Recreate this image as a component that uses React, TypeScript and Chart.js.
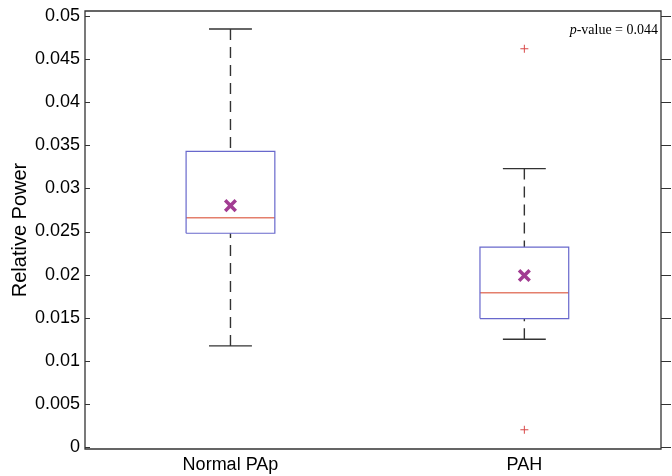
import React, { useEffect, useRef } from "react";
import { Chart, registerables } from "chart.js";

Chart.register(...registerables);

const categories = ["Normal PAp", "PAH"];
const positions = [1, 2];
const whiskerLow = [0.01173, 0.0125];
const q1 = [0.0248, 0.0149];
const median = [0.0266, 0.0179];
const q3 = [0.0343, 0.0232];
const whiskerHigh = [0.0485, 0.0323];
const means = [0.028, 0.0199];
const outliers: number[][] = [[], [0.0462, 0.002]];
const yTickValues = [0, 0.005, 0.01, 0.015, 0.02, 0.025, 0.03, 0.035, 0.04, 0.045, 0.05];
const yTickLabels = ["0", "0.005", "0.01", "0.015", "0.02", "0.025", "0.03", "0.035", "0.04", "0.045", "0.05"];
const pValueText = "-value = 0.044";

const BOX_HALF = 0.151;
const CAP_HALF = 0.073;
const BOX_COLOR = "#6868cc";
const MEDIAN_COLOR = "#e47f6c";
const WHISKER_COLOR = "#333333";
const MEAN_COLOR = "#a23c92";
const OUTLIER_COLOR = "#d84848";
const AXIS_COLOR = "#333333";

const framePlugin = {
  id: "frame",
  afterDraw(chart: any) {
    const { ctx, chartArea } = chart;
    const { left, right, top, bottom } = chartArea;
    const y = chart.scales.y;
    ctx.save();
    ctx.strokeStyle = AXIS_COLOR;
    ctx.lineWidth = 1.3;
    ctx.beginPath();
    ctx.rect(left, top, right - left, bottom - top);
    ctx.stroke();
    ctx.lineWidth = 1;
    ctx.beginPath();
    yTickValues.forEach((v) => {
      const py = Math.round(y.getPixelForValue(v)) + 0.5;
      ctx.moveTo(left, py);
      ctx.lineTo(left + 5, py);
      ctx.moveTo(right, py);
      ctx.lineTo(right + 10, py);
    });
    ctx.stroke();
    // p-value annotation
    ctx.fillStyle = "#000";
    ctx.textBaseline = "middle";
    ctx.font = '14px "Liberation Serif", "Times New Roman", serif';
    const restW = ctx.measureText(pValueText).width;
    ctx.font = 'italic 14px "Liberation Serif", "Times New Roman", serif';
    const pW = ctx.measureText("p").width;
    const xr = right - 3;
    const ty = top + 19;
    ctx.textAlign = "left";
    ctx.fillText("p", xr - restW - pW, ty);
    ctx.font = '14px "Liberation Serif", "Times New Roman", serif';
    ctx.fillText(pValueText, xr - restW, ty);
    ctx.restore();
  },
};

function buildDatasets() {
  const ds: any[] = [];
  const lineBase = { type: "line", pointRadius: 0, tension: 0, fill: false };
  positions.forEach((p, i) => {
    ds.push({
      ...lineBase,
      data: [
        { x: p - BOX_HALF, y: q1[i] },
        { x: p + BOX_HALF, y: q1[i] },
        { x: p + BOX_HALF, y: q3[i] },
        { x: p - BOX_HALF, y: q3[i] },
        { x: p - BOX_HALF, y: q1[i] },
      ],
      borderColor: BOX_COLOR,
      borderWidth: 1.2,
    });
    ds.push({
      ...lineBase,
      data: [
        { x: p - BOX_HALF, y: median[i] },
        { x: p + BOX_HALF, y: median[i] },
      ],
      borderColor: MEDIAN_COLOR,
      borderWidth: 1.5,
    });
    ds.push({
      ...lineBase,
      data: [
        { x: p, y: whiskerHigh[i] },
        { x: p, y: q3[i] },
      ],
      borderColor: WHISKER_COLOR,
      borderWidth: 1.4,
      borderDash: [11, 7],
    });
    ds.push({
      ...lineBase,
      data: [
        { x: p, y: whiskerLow[i] },
        { x: p, y: q1[i] },
      ],
      borderColor: WHISKER_COLOR,
      borderWidth: 1.4,
      borderDash: [11, 7],
    });
    ds.push({
      ...lineBase,
      data: [
        { x: p - CAP_HALF, y: whiskerHigh[i] },
        { x: p + CAP_HALF, y: whiskerHigh[i] },
      ],
      borderColor: WHISKER_COLOR,
      borderWidth: 1.4,
    });
    ds.push({
      ...lineBase,
      data: [
        { x: p - CAP_HALF, y: whiskerLow[i] },
        { x: p + CAP_HALF, y: whiskerLow[i] },
      ],
      borderColor: WHISKER_COLOR,
      borderWidth: 1.4,
    });
    if (outliers[i].length) {
      ds.push({
        type: "scatter",
        data: outliers[i].map((v) => ({ x: p, y: v })),
        pointStyle: "cross",
        pointRadius: 4,
        borderColor: OUTLIER_COLOR,
        borderWidth: 1,
        showLine: false,
      });
    }
    ds.push({
      type: "scatter",
      data: [{ x: p, y: means[i] }],
      pointStyle: "crossRot",
      pointRadius: 7.5,
      borderColor: MEAN_COLOR,
      borderWidth: 3.5,
      showLine: false,
    });
  });
  return ds;
}

export default function App() {
  const ref = useRef<HTMLCanvasElement>(null);
  useEffect(() => {
    document.body.style.margin = "0";
    const tickFont = { family: '"Liberation Sans", Arial, sans-serif', size: 18 };
    const chart = new Chart(ref.current as HTMLCanvasElement, {
      type: "scatter",
      data: { datasets: buildDatasets() } as any,
      plugins: [framePlugin],
      options: {
        animation: false,
        responsive: false,
        layout: { padding: { left: 0, right: 10, top: 10, bottom: 0 } },
        plugins: { legend: { display: false }, tooltip: { enabled: false } },
        scales: {
          x: {
            type: "linear",
            min: 0.505,
            max: 2.465,
            grid: { display: false, drawTicks: false },
            border: { display: false },
            afterBuildTicks: (s: any) => {
              s.ticks = positions.map((v) => ({ value: v }));
            },
            afterFit: (s: any) => {
              s.height = 27;
              s.paddingLeft = 0;
              s.paddingRight = 0;
            },
            ticks: {
              autoSkip: false,
              maxRotation: 0,
              padding: 5,
              color: "#000",
              font: tickFont,
              callback: (v: any) => {
                const idx = positions.indexOf(Number(v));
                return idx >= 0 ? categories[idx] : "";
              },
            },
          },
          y: {
            type: "linear",
            min: -0.00023,
            max: 0.05058,
            grid: { display: false, drawTicks: false },
            border: { display: false },
            afterBuildTicks: (s: any) => {
              s.ticks = yTickValues.map((v) => ({ value: v }));
            },
            afterFit: (s: any) => {
              s.width = 85;
              s.paddingTop = 0;
              s.paddingBottom = 0;
            },
            title: {
              display: true,
              text: "Relative Power",
              color: "#000",
              font: { family: '"Liberation Sans", Arial, sans-serif', size: 20 },
              padding: { top: 8, bottom: 0 },
            },
            ticks: {
              autoSkip: false,
              padding: 5,
              color: "#000",
              font: tickFont,
              callback: (v: any) => {
                const idx = yTickValues.findIndex((t) => Math.abs(t - Number(v)) < 1e-9);
                return idx >= 0 ? yTickLabels[idx] : "";
              },
            },
          },
        },
      } as any,
    });
    return () => chart.destroy();
  }, []);
  return (
    <div style={{ width: 672, height: 476 }}>
      <canvas ref={ref} width={672} height={476} style={{ display: "block" }} />
    </div>
  );
}
